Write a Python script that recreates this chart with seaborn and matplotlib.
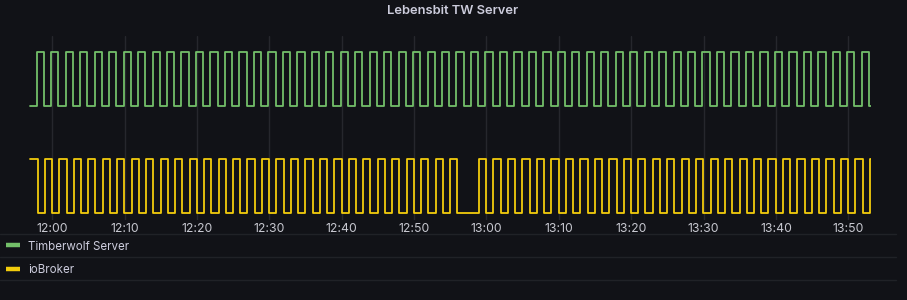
import numpy as np
import pandas as pd
import matplotlib
matplotlib.use("Agg")
import matplotlib.pyplot as plt
import matplotlib.dates as mdates
from matplotlib.lines import Line2D
import seaborn as sns

# ---------------- data ----------------
title = "Lebensbit TW Server"
series_names = ["Timberwolf Server", "ioBroker"]
series_colors = ["#73BF69", "#F2CC0C"]

# sample times (one state sample per minute, plus the end of the time range)
green_start = "2023-01-01 11:56:51"
yellow_start = "2023-01-01 11:56:58"
range_end = "2023-01-01 13:53:06"

# Timberwolf Server life bit (one value per minute)
green_values = [
    0, 1, 0, 1, 0, 1, 0, 1, 0, 1, 0, 1, 0, 1, 0, 1, 0, 1, 0, 1,
    0, 1, 0, 1, 0, 1, 0, 1, 0, 1, 0, 1, 0, 1, 0, 1, 0, 1, 0, 1,
    0, 1, 0, 1, 0, 1, 0, 1, 0, 1, 0, 1, 0, 1, 0, 1, 0, 1, 0, 1,
    0, 1, 0, 1, 0, 1, 0, 1, 0, 1, 0, 1, 0, 1, 0, 1, 0, 1, 0, 1,
    0, 1, 0, 1, 0, 1, 0, 1, 0, 1, 0, 1, 0, 1, 0, 1, 0, 1, 0, 1,
    0, 1, 0, 1, 0, 1, 0, 1, 0, 1, 0, 1, 0, 1, 0, 1, 0,
]
# ioBroker life bit (one value per minute, one toggle missed near 12:55)
yellow_values = [
    1, 0, 1, 0, 1, 0, 1, 0, 1, 0, 1, 0, 1, 0, 1, 0, 1, 0, 1, 0,
    1, 0, 1, 0, 1, 0, 1, 0, 1, 0, 1, 0, 1, 0, 1, 0, 1, 0, 1, 0,
    1, 0, 1, 0, 1, 0, 1, 0, 1, 0, 1, 0, 1, 0, 1, 0, 1, 0, 1, 0,
    0, 0, 1, 0, 1, 0, 1, 0, 1, 0, 1, 0, 1, 0, 1, 0, 1, 0, 1, 0,
    1, 0, 1, 0, 1, 0, 1, 0, 1, 0, 1, 0, 1, 0, 1, 0, 1, 0, 1, 0,
    1, 0, 1, 0, 1, 0, 1, 0, 1, 0, 1, 0, 1, 0, 1, 0, 1,
]

tick_format = "%H:%M"

# ---------------- build frames ----------------
def make_frame(start, values, name, offset):
    t = list(pd.date_range(start, periods=len(values), freq="1min"))
    v = list(values)
    t.append(pd.Timestamp(range_end))
    v.append(values[-1])
    return pd.DataFrame({"time": t, "level": np.array(v) + offset, "series": name})

df_green = make_frame(green_start, green_values, series_names[0], 2)
df_yellow = make_frame(yellow_start, yellow_values, series_names[1], 0)

# ---------------- style ----------------
BG = "#111217"
TXT = "#ccccdc"
sns.set_theme(style="dark")
plt.rcParams["font.family"] = ["Inter", "DejaVu Sans"]

W, H = 907, 300
fig = plt.figure(figsize=(W / 100, H / 100), dpi=100, facecolor=BG)
L, R, T, B = 28.8, 871.1, 35.7, 220.0
ax = fig.add_axes([L / W, 1 - B / H, (R - L) / W, (B - T) / H])
ax.set_facecolor(BG)

sns.lineplot(data=df_green, x="time", y="level", color=series_colors[0],
             drawstyle="steps-post", estimator=None, linewidth=1.3,
             label=series_names[0], ax=ax)
sns.lineplot(data=df_yellow, x="time", y="level", color=series_colors[1],
             drawstyle="steps-post", estimator=None, linewidth=1.3,
             label=series_names[1], ax=ax)

x0 = pd.Timestamp("2023-01-01 11:56:45")
x1 = pd.Timestamp("2023-01-01 13:53:09")
ax.set_xlim(x0, x1)
ax.set_ylim(-0.124, 3.30)

ax.xaxis.set_major_locator(mdates.MinuteLocator(byminute=range(0, 60, 10)))
ax.xaxis.set_major_formatter(mdates.DateFormatter(tick_format))
ax.set_yticks([])
ax.set_xlabel("")
ax.set_ylabel("")
ax.tick_params(axis="x", length=0, pad=2, labelsize=8.8, labelcolor="#c7c8d0")
ax.grid(True, axis="x", color="#26272d", linewidth=1)
ax.grid(False, axis="y")
for s in ax.spines.values():
    s.set_visible(False)

# title
fig.text(453 / W, 1 - 11.5 / H, title, ha="center", va="center",
         color=TXT, fontsize=9.3, fontweight="semibold")

# legend
handles, labels = ax.get_legend_handles_labels()
ax.get_legend().remove()
leg = fig.legend(handles, labels, loc="upper left",
                 bbox_to_anchor=(6 / W, 1 - 240.5 / H), frameon=False,
                 fontsize=8.3, handlelength=1.21, handletextpad=0.69,
                 labelspacing=1.02, borderpad=0, borderaxespad=0)
for h in leg.legend_handles:
    h.set_linewidth(3.2)
    h.set_solid_capstyle("butt")
for t in leg.get_texts():
    t.set_color(TXT)

# separators
for y in (234.3, 257.3, 280.3):
    fig.add_artist(Line2D([0, 896 / W], [1 - y / H, 1 - y / H],
                          transform=fig.transFigure, color="#202227", linewidth=1))

fig.savefig("out.png", dpi=100, facecolor=BG)
